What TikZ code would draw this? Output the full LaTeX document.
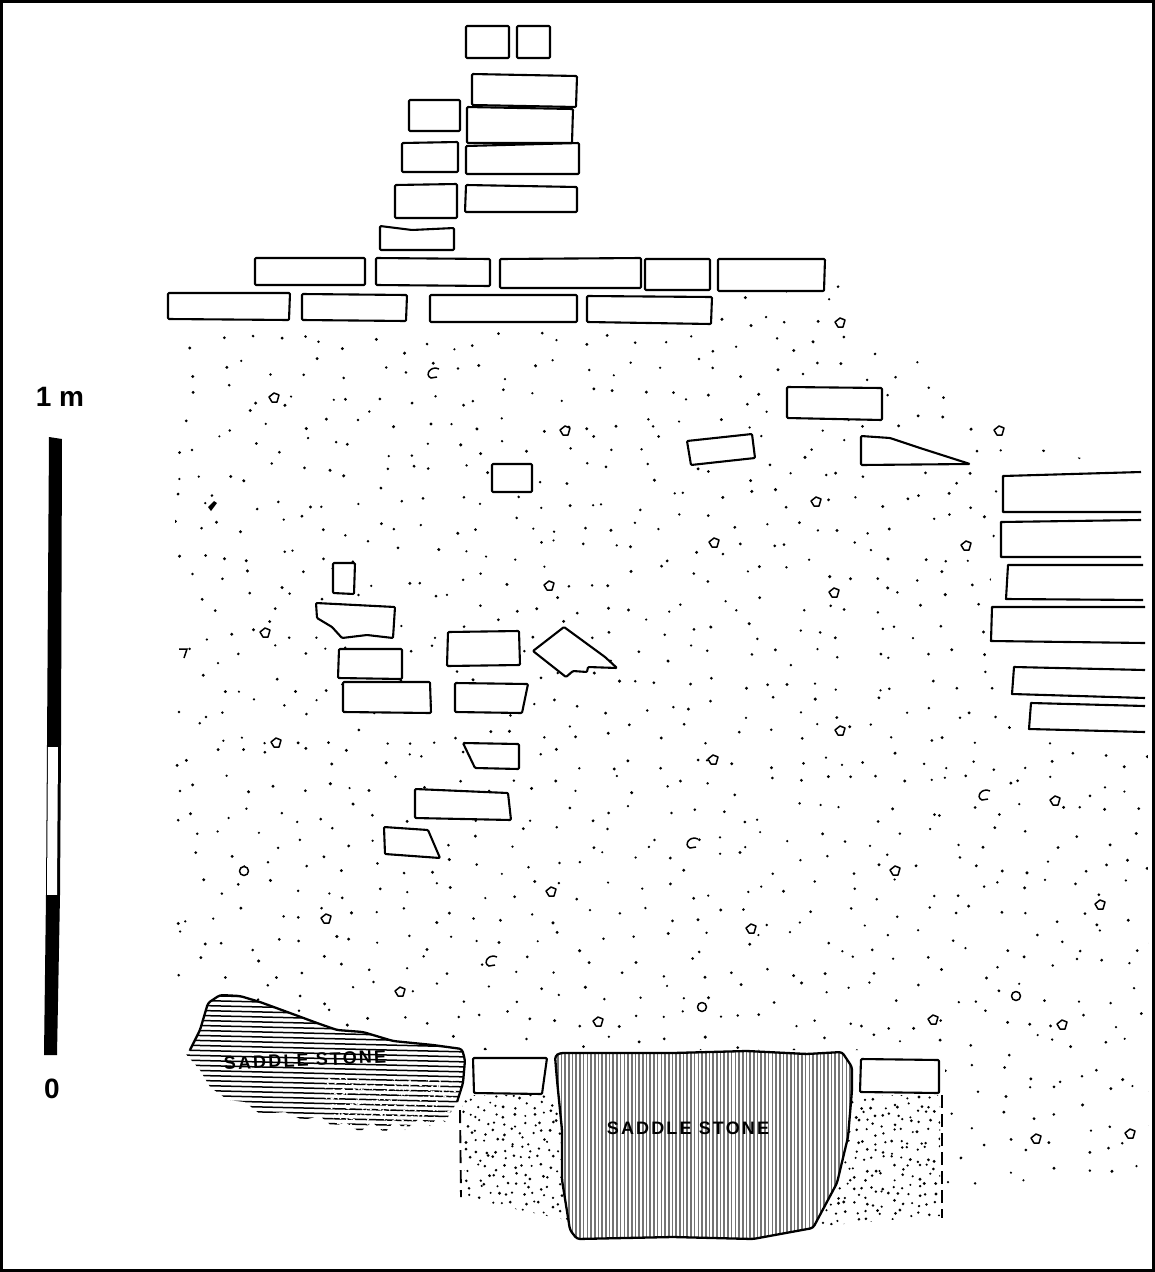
\documentclass[tikz,border=0pt]{standalone}
\usepackage{fontspec}
\setmainfont{Liberation Sans}
\tikzset{
	stone/.style={draw,fill=white,line width=2.1pt,line join=round,rounded corners=1pt},
	openstone/.style={fill=white},
	openedge/.style={line width=2.1pt,line join=round},
	pebble/.style={draw,fill=white,line width=1.5pt,line join=round},
	rough/.style={draw,line width=2.3pt,line join=round,rounded corners=3pt},
	stonelabel/.style={font=\bfseries\fontsize{18}{18}\selectfont\addfontfeatures{LetterSpace=12},inner sep=0pt},
	scalelabel/.style={font=\bfseries\fontsize{28}{28}\selectfont,inner sep=0pt}
}
\begin{document}
\begin{tikzpicture}[x=1pt,y=-1pt]
	\useasboundingbox (0,0) rectangle (1155,1272);
	\fill[white] (0,0) rectangle (1155,1272);
	\begin{scope}
		\clip (175,330) -- (715,330) -- (730,295) -- (835,270) -- (860,330) -- (960,380) -- (1000,440) -- (1090,460) -- (1000,470) -- (985,650) -- (1015,740) -- (1148,740) -- (1148,1195) -- (945,1195) -- (945,1050) -- (465,1050) -- (340,1030) -- (220,990) -- (175,985) -- cycle;
		\pgfmathsetseed{1155}
		\foreach \i in {0,...,38} {
			\foreach \j in {0,...,36} {
				\pgfmathsetmacro{\px}{170+26*\i+11*rand}
				\pgfmathsetmacro{\py}{265+26*\j+11*rand}
				\pgfmathsetmacro{\pr}{1.2+0.5*rnd}
				\fill (\px,\py) circle (\pr);
			}
		}
	\end{scope}
	\begin{scope}
		\clip (462,1095) -- (555,1095) -- (575,1222) -- (465,1198) -- cycle (850,1095) -- (940,1095) -- (940,1216) -- (820,1226) -- cycle;
		\foreach \i in {0,...,54} {
			\foreach \j in {0,...,14} {
				\pgfmathsetmacro{\px}{460+9*\i+3.8*rand}
				\pgfmathsetmacro{\py}{1096+9*\j+3.8*rand}
				\pgfmathsetmacro{\pr}{1.1+0.5*rnd}
				\fill (\px,\py) circle (\pr);
			}
		}
	\end{scope}
	\draw[line width=1.9pt,dash pattern=on 13pt off 7pt] (460,1110) -- (461,1197);
	\draw[line width=1.9pt,dash pattern=on 13pt off 6pt] (942,1095) -- (942,1218);

	\draw[stone] (466,26) -- (509,26) -- (509,58) -- (466,58) -- cycle;
	\draw[stone] (517,26) -- (550,26) -- (550,58) -- (517,58) -- cycle;
	\draw[stone] (472,74) -- (577,76) -- (576,107) -- (472,105) -- cycle;
	\draw[stone] (409,100) -- (460,100) -- (460,131) -- (409,131) -- cycle;
	\draw[stone] (467,107) -- (573,109) -- (572,143) -- (467,143) -- cycle;
	\draw[stone] (402,143) -- (458,142) -- (458,172) -- (402,172) -- cycle;
	\draw[stone] (466,146) -- (579,143) -- (579,174) -- (466,174) -- cycle;
	\draw[stone] (395,185) -- (457,184) -- (457,218) -- (395,218) -- cycle;
	\draw[stone] (466,185) -- (577,187) -- (577,212) -- (465,212) -- cycle;
	\draw[stone] (380,226) -- (412,230) -- (454,228) -- (454,250) -- (380,250) -- cycle;

	\draw[stone] (255,258) -- (365,258) -- (365,285) -- (255,285) -- cycle;
	\draw[stone] (376,258) -- (490,259) -- (490,286) -- (376,285) -- cycle;
	\draw[stone] (500,259) -- (641,258) -- (641,288) -- (500,288) -- cycle;
	\draw[stone] (645,259) -- (710,259) -- (710,290) -- (645,290) -- cycle;
	\draw[stone] (718,259) -- (825,259) -- (824,291) -- (718,291) -- cycle;
	\draw[stone] (168,293) -- (290,293) -- (289,320) -- (168,319) -- cycle;
	\draw[stone] (302,294) -- (407,295) -- (406,321) -- (302,320) -- cycle;
	\draw[stone] (430,295) -- (577,295) -- (577,322) -- (430,322) -- cycle;
	\draw[stone] (587,296) -- (712,297) -- (711,324) -- (587,322) -- cycle;

	\draw[stone] (787,387) -- (882,388) -- (882,420) -- (787,418) -- cycle;
	\draw[stone] (687,441) -- (752,434) -- (755,458) -- (691,465) -- cycle;
	\draw[stone] (861,436) -- (890,438) -- (920,448) -- (970,464) -- (861,465) -- cycle;
	\draw[stone] (492,464) -- (532,464) -- (532,492) -- (492,492) -- cycle;

	\fill[openstone] (1003,476) -- (1141,472) -- (1141,512) -- (1003,512) -- cycle;
	\draw[openedge] (1141,472) -- (1003,476) -- (1003,512) -- (1141,512);
	\fill[openstone] (1001,522) -- (1141,520) -- (1141,557) -- (1001,557) -- cycle;
	\draw[openedge] (1141,520) -- (1001,522) -- (1001,557) -- (1141,557);
	\fill[openstone] (1008,565) -- (1143,565) -- (1143,600) -- (1006,599) -- cycle;
	\draw[openedge] (1143,565) -- (1008,565) -- (1006,599) -- (1143,600);
	\fill[openstone] (992,607) -- (1145,607) -- (1145,643) -- (991,641) -- cycle;
	\draw[openedge] (1145,607) -- (992,607) -- (991,641) -- (1145,643);
	\fill[openstone] (1014,667) -- (1145,670) -- (1145,698) -- (1012,694) -- cycle;
	\draw[openedge] (1145,670) -- (1014,667) -- (1012,694) -- (1145,698);
	\fill[openstone] (1031,703) -- (1145,706) -- (1145,732) -- (1029,729) -- cycle;
	\draw[openedge] (1145,706) -- (1031,703) -- (1029,729) -- (1145,732);

	\draw[stone] (333,563) -- (355,563) -- (354,594) -- (333,593) -- cycle;
	\draw[stone] (316,603) -- (395,607) -- (393,638) -- (367,635) -- (342,638) -- (332,627) -- (317,618) -- cycle;
	\draw[stone] (339,649) -- (402,649) -- (402,679) -- (338,678) -- cycle;
	\draw[stone] (343,682) -- (430,682) -- (431,713) -- (343,712) -- cycle;
	\draw[stone] (448,632) -- (519,631) -- (520,665) -- (447,666) -- cycle;
	\draw[stone] (533,651) -- (564,627) -- (605,657) -- (617,668) -- (588,667) -- (587,672) -- (573,671) -- (566,677) -- cycle;
	\draw[stone] (455,683) -- (528,684) -- (522,713) -- (455,712) -- cycle;
	\draw[stone] (463,743) -- (519,744) -- (519,769) -- (475,768) -- cycle;
	\draw[stone] (415,789) -- (508,793) -- (511,820) -- (415,818) -- cycle;
	\draw[stone] (384,827) -- (428,830) -- (440,858) -- (385,854) -- cycle;

	\foreach \px/\py in {840/323,274/398,565/431,999/431,816/502,714/543,966/546,549/586,834/593,265/633,276/743,840/731,713/760,1055/801,895/871,551/892,1100/905,326/919,751/929,400/992,933/1020,598/1022,1062/1025,1036/1139,1130/1134} {
		\draw[pebble] (\px-5,\py-1) -- (\px,\py-5) -- (\px+5,\py-3) -- (\px+3,\py+4) -- (\px-2,\py+4) -- cycle;
	}
	\foreach \px/\py in {244/871,702/1007,1016/996} {
		\draw[pebble] (\px,\py) circle (4.5);
	}
	\foreach \px/\py in {433/373,984/795,692/843,491/961} {
		\draw[line width=1.5pt] (\px+6,\py-4) .. controls (\px-2,\py-8) and (\px-9,\py+2) .. (\px-2,\py+5) -- (\px+4,\py+4);
	}
	\draw[line width=1.5pt] (179,649) -- (187,649) -- (184,658);
	\fill (208,507) -- (214,501) -- (217,503) -- (211,511) -- cycle;

	\begin{scope}
		\clip (185,1053) -- (190,1050) -- (200,1030) -- (208,1003) -- (220,995) -- (240,996) -- (260,1002) -- (290,1013) -- (317,1023) -- (337,1030) -- (363,1032) -- (393,1041) -- (433,1045) -- (462,1049) -- (465,1060) -- (463,1083) -- (457,1102) -- (445,1122) -- (438,1117) -- (430,1126) -- (420,1118) -- (405,1130) -- (395,1120) -- (385,1133) -- (372,1122) -- (360,1132) -- (345,1122) -- (333,1127) -- (320,1116) -- (303,1120) -- (285,1112) -- (260,1114) -- (245,1102) -- (228,1100) -- (210,1087) -- (200,1070) -- cycle;
		\foreach \i in {0,...,34} {
			\draw[line width=1.5pt] (180,{985+5*\i}) -- (470,{992+5*\i});
		}
		\pgfmathsetseed{42}
		\foreach \i in {1,...,420} {
			\pgfmathsetmacro{\px}{390+65*rand}
			\pgfmathsetmacro{\py}{1104+26*rand}
			\fill[white] (\px,\py) circle (1.1);
		}
	\end{scope}
	\draw[rough] (190,1050) -- (200,1030) -- (208,1003) -- (220,995) -- (240,996) -- (260,1002) -- (290,1013) -- (317,1023) -- (337,1030) -- (363,1032) -- (393,1041) -- (433,1045) -- (462,1049) -- (465,1060) -- (463,1083) -- (457,1102);
	\node[stonelabel,rotate=2.5] (stoneleft) at (305,1060) {SADDLE STONE};

	\draw[stone] (473,1058) -- (547,1058) -- (542,1094) -- (474,1093) -- cycle;
	\draw[stone] (861,1059) -- (939,1060) -- (939,1093) -- (860,1092) -- cycle;

	\fill[white,rounded corners=3pt] (555,1056) -- (560,1053) -- (673,1053) -- (747,1051) -- (807,1054) -- (842,1052) -- (852,1067) -- (852,1090) -- (848,1137) -- (837,1183) -- (813,1228) -- (753,1239) -- (673,1237) -- (577,1239) -- (570,1230) -- (562,1180) -- (562,1130) -- (557,1080) -- cycle;
	\begin{scope}
		\clip[rounded corners=3pt] (555,1056) -- (560,1053) -- (673,1053) -- (747,1051) -- (807,1054) -- (842,1052) -- (852,1067) -- (852,1090) -- (848,1137) -- (837,1183) -- (813,1228) -- (753,1239) -- (673,1237) -- (577,1239) -- (570,1230) -- (562,1180) -- (562,1130) -- (557,1080) -- cycle;
		\foreach \i in {0,...,80} {
			\draw[line width=1.6pt,black!55] ({554+3.7*\i},1045) -- ({554+3.7*\i},1245);
		}
	\end{scope}
	\draw[rough] (555,1056) -- (560,1053) -- (673,1053) -- (747,1051) -- (807,1054) -- (842,1052) -- (852,1067) -- (852,1090) -- (848,1137) -- (837,1183) -- (813,1228) -- (753,1239) -- (673,1237) -- (577,1239) -- (570,1230) -- (562,1180) -- (562,1130) -- (557,1080) -- cycle;
	\node[stonelabel] (stoneright) at (688,1128) {SADDLE STONE};

	\fill (49,437) -- (62,439) -- (61,745) -- (47,745) -- cycle;
	\fill (47,745) -- (61,745) -- (60,895) -- (46,895) -- cycle;
	\fill[white] (48,747) -- (58,747) -- (57,895) -- (47,895) -- cycle;
	\fill (46,895) -- (60,895) -- (57,1055) -- (44,1055) -- cycle;
	\node[scalelabel] (scaletop) at (60,397) {1 m};
	\node[scalelabel] (scalebottom) at (52,1089) {0};

	\draw[line width=3pt] (1,1) rectangle (1153.5,1270.5);
\end{tikzpicture}
\end{document}
